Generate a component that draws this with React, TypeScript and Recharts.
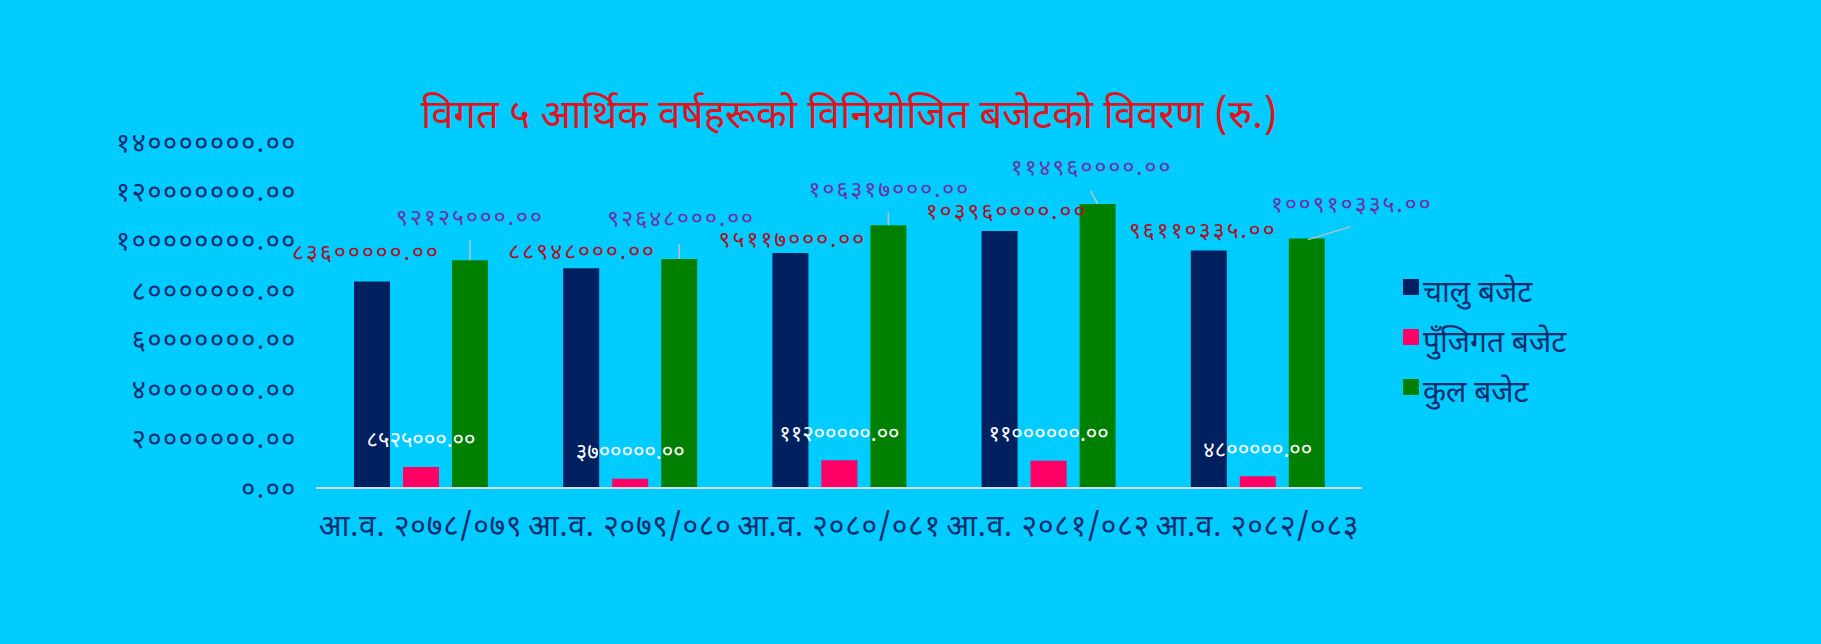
import React from 'react';
import { BarChart, Bar, XAxis, YAxis, LabelList } from 'recharts';

const categories = ['आ.व. २०७८/०७९', 'आ.व. २०७९/०८०', 'आ.व. २०८०/०८१', 'आ.व. २०८१/०८२', 'आ.व. २०८२/०८३'];
const chaluValues = [83600000, 88948000, 95117000, 103960000, 96110335];
const punjigatValues = [8525000, 3700000, 11200000, 11000000, 4800000];
const kulValues = [92125000, 92648000, 106317000, 114960000, 100910335];
const yTicks = [0, 20000000, 40000000, 60000000, 80000000, 100000000, 120000000, 140000000];
const seriesNames = ['चालु बजेट', 'पुँजिगत बजेट', 'कुल बजेट'];
const titleText = 'विगत ५ आर्थिक वर्षहरूको विनियोजित बजेटको विवरण (रु.)';

// label nudges (style, not data)
const chaluLabelNudge = [[-6, -27], [1, -15], [2, -12], [7, -18], [-6, -18]];
const kulLabelNudge = [[0, -41], [2, -39], [1, -34], [-6, -35], [45, -33]];
const kulLeader = [[0, 0, 0, -20], [0, 0, 0, -15], [0, 0, 0, -13], [0, 0, -7, -13], [1, 1, 44, -12]];

const COLORS = { bg: '#00CCFF', chalu: '#002060', punjigat: '#FF0066', kul: '#008000' };
const FONT = "'Noto Sans Devanagari', 'Lohit Devanagari', 'Mangal', 'Kalimati', 'Noto Sans', sans-serif";
const NAVY = '#0D2B6B';

const devDigits = ['०', '१', '२', '३', '४', '५', '६', '७', '८', '९'];
const toDev = (s: string) => s.replace(/[0-9]/g, (d) => devDigits[Number(d)]);
const fmt = (v: number) => toDev(v.toFixed(2));

const data = categories.map((c, i) => ({
  name: c,
  chalu: chaluValues[i],
  punjigat: punjigatValues[i],
  kul: kulValues[i],
}));

const renderChaluLabel = (props: any) => {
  const { x, y, width, index, value } = props;
  const [dx, dy] = chaluLabelNudge[index] || [0, -15];
  return (
    <text x={x + width / 2 + dx} y={y + dy} textAnchor="middle" dominantBaseline="central"
      fill="#B0101E" fontSize={23} letterSpacing={2} fontFamily={FONT}>{fmt(value)}</text>
  );
};

const renderKulLabel = (props: any) => {
  const { x, y, width, index, value } = props;
  const [dx, dy] = kulLabelNudge[index] || [0, -30];
  const [x1, y1, x2, y2] = kulLeader[index] || [0, 0, 0, -15];
  const cx = x + width / 2;
  return (
    <g>
      <line x1={cx + x1} y1={y + y1} x2={cx + x2} y2={y + y2} stroke="#BFBFBF" strokeWidth={1.5} />
      <text x={cx + dx} y={y + dy} textAnchor="middle" dominantBaseline="central"
        fill="#7030A0" fontSize={23} letterSpacing={2} fontFamily={FONT}>{fmt(value)}</text>
    </g>
  );
};

const renderPunjigatLabel = (props: any) => {
  const { x, y, width, value } = props;
  return (
    <text x={x + width / 2} y={y - 25} textAnchor="middle" dominantBaseline="central"
      fill="#FFFFFF" fontSize={22} fontFamily={FONT}>{fmt(value)}</text>
  );
};

const seriesColors = [COLORS.chalu, COLORS.punjigat, COLORS.kul];

export default function App() {
  return (
    <div style={{ position: 'absolute', left: 0, top: 0, width: 1821, height: 644, background: COLORS.bg, fontFamily: FONT, overflow: 'hidden' }}>
      <div style={{ position: 'absolute', left: 0, width: 1698, top: 93, textAlign: 'center', color: '#E0141E', fontSize: 40, lineHeight: '50px', whiteSpace: 'nowrap' }}>
        {titleText}
      </div>
      <BarChart width={1821} height={644} data={data}
        margin={{ top: 142, right: 459, bottom: 96, left: 0 }} barSize={36} barGap={13}>
        <XAxis dataKey="name" height={60} tickSize={0} tickMargin={27} interval={0}
          axisLine={{ stroke: '#D9D9D9', strokeWidth: 2 }} tickLine={false}
          tick={{ fill: NAVY, fontSize: 30, letterSpacing: 0.8, fontFamily: FONT }} />
        <YAxis width={316} domain={[0, 140000000]} ticks={yTicks} tickSize={0} tickMargin={19}
          axisLine={false} tickLine={false} interval={0}
          tickFormatter={(v: number) => fmt(v)}
          tick={{ fill: NAVY, fontSize: 27, letterSpacing: 1.6, fontFamily: FONT }} />
        <Bar dataKey="chalu" name={seriesNames[0]} fill={COLORS.chalu} isAnimationActive={false}>
          <LabelList dataKey="chalu" content={renderChaluLabel} />
        </Bar>
        <Bar dataKey="punjigat" name={seriesNames[1]} fill={COLORS.punjigat} isAnimationActive={false}>
          <LabelList dataKey="punjigat" content={renderPunjigatLabel} />
        </Bar>
        <Bar dataKey="kul" name={seriesNames[2]} fill={COLORS.kul} isAnimationActive={false}>
          <LabelList dataKey="kul" content={renderKulLabel} />
        </Bar>
      </BarChart>
      <div style={{ position: 'absolute', left: 1403, top: 270 }}>
        {seriesNames.map((n, i) => (
          <div key={n} style={{ position: 'relative', height: 50, paddingLeft: 20 }}>
            <div style={{ position: 'absolute', left: 0, top: 9, width: 16, height: 16, background: seriesColors[i] }} />
            <span style={{ color: NAVY, fontSize: 30, lineHeight: '50px', whiteSpace: 'nowrap' }}>{n}</span>
          </div>
        ))}
      </div>
    </div>
  );
}
